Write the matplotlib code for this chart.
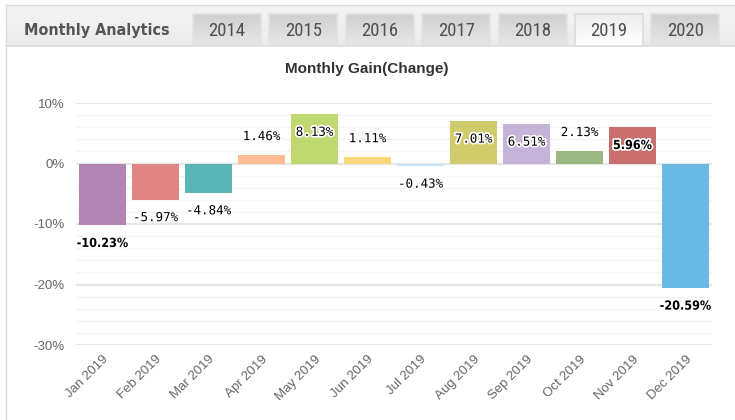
"""
Monthly Gain(Change) bar chart with the Monthly Analytics tab header
"""

import matplotlib
matplotlib.use('Agg')
import matplotlib.pyplot as plt
import matplotlib.patheffects as pe
from matplotlib.colors import LinearSegmentedColormap
import numpy as np

# data
months = ['Jan 2019', 'Feb 2019', 'Mar 2019', 'Apr 2019', 'May 2019', 'Jun 2019',
          'Jul 2019', 'Aug 2019', 'Sep 2019', 'Oct 2019', 'Nov 2019', 'Dec 2019']
gains = [-10.23, -5.97, -4.84, 1.46, 8.13, 1.11, -0.43, 7.01, 6.51, 2.13, 5.96, -20.59]

years = ['2014', '2015', '2016', '2017', '2018', '2019', '2020']
active_year = '2019'

y_ticks = [10, 0, -10, -20, -30]

# styles
bar_colors = ['#b484b4', '#e08585', '#5cb5b5', '#ffbb92', '#c0d870', '#f8d878',
              '#cde2f5', '#d0cc6c', '#c6b4d8', '#9cb882', '#c86e6e', '#6ab8e4']
bold_months = {'Jan 2019', 'Nov 2019', 'Dec 2019'}

W, H = 735, 420
fig = plt.figure(figsize=(W / 100, H / 100), dpi=100)
fig.patch.set_facecolor('white')

# background / header drawn in pixel coordinates
bg = fig.add_axes([0, 0, 1, 1], zorder=0)
bg.set_xlim(0, W)
bg.set_ylim(H, 0)
bg.axis('off')


def gradient(ax, x0, x1, y0, y1, c_top, c_bottom):
    cmap = LinearSegmentedColormap.from_list('g', [c_top, c_bottom])
    ax.imshow(np.linspace(0, 1, 64).reshape(-1, 1), cmap=cmap, origin='upper',
              extent=[x0, x1, y1, y0], aspect='auto', interpolation='bilinear', zorder=1)


gradient(bg, 6, W, 5, 45, '#f5f5f5', '#ebebeb')
bg.plot([6, W], [5, 5], color='#dcdcdc', lw=1, zorder=2)
bg.plot([6, W], [45.5, 45.5], color='#dadada', lw=1.2, zorder=2)
bg.plot([6, 6], [5, H], color='#dcdcdc', lw=1, zorder=2)

bg.text(24, 30, 'Monthly Analytics', fontsize=11.5, fontweight='bold', color='#555555',
        family='DejaVu Sans', fontstretch='condensed', va='center', ha='left', zorder=3)

for i, yr in enumerate(years):
    x0 = 193 + i * 76.4
    x1 = x0 + 68
    if yr == active_year:
        gradient(bg, x0, x1, 14, 47, '#eeeeee', '#ffffff')
        bg.plot([x0, x0, x1, x1], [46, 14, 14, 46], color='#e0e0e0', lw=1.5, zorder=2)
    else:
        gradient(bg, x0, x1, 14, 45, '#d0d0d0', '#e6e6e6')
        bg.plot([x0, x0, x1, x1, x0], [45, 14, 14, 45, 45], color='#e2e2e2', lw=1.5, zorder=2)
    bg.text((x0 + x1) / 2, 30.5, yr, fontsize=13.5, color='#505050',
            family=['Roboto Condensed', 'DejaVu Sans'],
            ha='center', va='center', zorder=3)

fig.text(367 / W, 1 - 69 / H, 'Monthly Gain(Change)', fontsize=11, fontweight='bold',
         color='#333333', family='Liberation Sans', ha='center', va='center')

# chart
ax = fig.add_axes([76 / W, 75 / H, 636 / W, 242 / H], zorder=1)
ax.set_facecolor('none')
x = np.arange(len(months))
ax.bar(x, gains, width=0.87, color=bar_colors, linewidth=0, zorder=3)

ax.set_xlim(-0.5, len(months) - 0.5)
ax.set_ylim(-30, 10)
ax.set_yticks(y_ticks)
ax.set_yticklabels([f'{t}%' for t in y_ticks])
ax.set_yticks(np.arange(-30, 10, 2), minor=True)
ax.grid(True, axis='y', which='major', color='#e6e6e6', lw=1.6, zorder=0)
ax.grid(True, axis='y', which='minor', color='#f4f4f4', lw=1, zorder=0)
ax.set_xticks(x)
ax.set_xticklabels(months, rotation=45, ha='right', rotation_mode='anchor')
for s in ax.spines.values():
    s.set_visible(False)
ax.tick_params(axis='both', which='both', length=0, colors='#666666', labelsize=9.5)
ax.tick_params(axis='x', pad=6)
ax.tick_params(axis='y', pad=8)
for lbl in ax.get_xticklabels() + ax.get_yticklabels():
    lbl.set_family('Liberation Sans')

for i, v in enumerate(gains):
    if v < 0 or v >= 4:
        dy = -13
    else:
        dy = 13
    bold = months[i] in bold_months
    ax.annotate(f'{v:.2f}%', (i, v), xytext=(0, dy), textcoords='offset points',
                ha='center', va='center', fontsize=9,
                family='DejaVu Sans Mono' if not bold else 'DejaVu Sans',
                fontstretch='condensed' if bold else 'normal',
                fontweight='bold' if bold else 'normal', color='black', zorder=5,
                path_effects=[pe.withStroke(linewidth=2.5, foreground='white')])

plt.savefig('out.png', dpi=100)
